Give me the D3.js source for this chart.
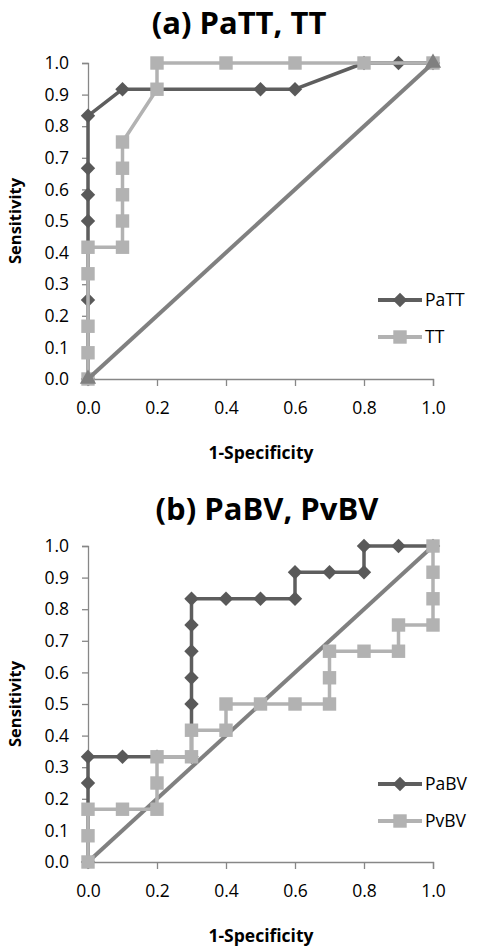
<!DOCTYPE html>
<html><head><meta charset="utf-8">
<script src="https://cdnjs.cloudflare.com/ajax/libs/d3/7.8.5/d3.min.js"></script>
<style>
html,body{margin:0;padding:0;background:#fff;}
svg{display:block;font-family:"Open Sans",sans-serif;}
</style></head>
<body>
<script>
// ---------- data ----------
const xTicks = [0, 0.2, 0.4, 0.6, 0.8, 1.0];
const yTicks = [0, 0.1, 0.2, 0.3, 0.4, 0.5, 0.6, 0.7, 0.8, 0.9, 1.0];

// (a) PaTT, TT
const pattX = [0, 0, 0, 0, 0, 0, 0.1, 0.5, 0.6, 0.8, 0.9, 1.0];
const pattY = [0, 0.25, 0.5, 0.583, 0.667, 0.833, 0.917, 0.917, 0.917, 1.0, 1.0, 1.0];
const ttX = [0, 0, 0, 0, 0, 0.1, 0.1, 0.1, 0.1, 0.1, 0.2, 0.2, 0.4, 0.6, 0.8, 1.0];
const ttY = [0, 0.083, 0.167, 0.333, 0.417, 0.417, 0.5, 0.583, 0.667, 0.75, 0.917, 1.0, 1.0, 1.0, 1.0, 1.0];

// (b) PaBV, PvBV
const pabvX = [0, 0, 0, 0.1, 0.2, 0.3, 0.3, 0.3, 0.3, 0.3, 0.3, 0.4, 0.5, 0.6, 0.6, 0.7, 0.8, 0.8, 0.9, 1.0];
const pabvY = [0, 0.25, 0.333, 0.333, 0.333, 0.333, 0.5, 0.583, 0.667, 0.75, 0.833, 0.833, 0.833, 0.833, 0.917, 0.917, 0.917, 1.0, 1.0, 1.0];
const pvbvX = [0, 0, 0, 0.1, 0.2, 0.2, 0.2, 0.3, 0.3, 0.4, 0.4, 0.5, 0.6, 0.7, 0.7, 0.7, 0.8, 0.9, 0.9, 1.0, 1.0, 1.0, 1.0];
const pvbvY = [0, 0.083, 0.167, 0.167, 0.167, 0.25, 0.333, 0.333, 0.417, 0.417, 0.5, 0.5, 0.5, 0.5, 0.583, 0.667, 0.667, 0.667, 0.75, 0.75, 0.833, 0.917, 1.0];

const refX = [0, 1];
const refY = [0, 1];

const zip = (xs, ys) => xs.map((x, i) => ({x, y: ys[i]}));

// ---------- styles ----------
const DARK = "#5e5e5e", LIGHT = "#b2b2b2", MID = "#808080", AXIS = "#878787";

const svg = d3.select("body").append("svg").attr("width", 479).attr("height", 952);

const diamond = d3.symbol().type(d3.symbolSquare).size(104)();
const square = d3.symbol().type(d3.symbolSquare).size(180)();
const triangle = d3.symbol().type(d3.symbolTriangle).size(115)();

function panel(cfg) {
  const x = d3.scaleLinear().domain([0, 1]).range([88, 433]);
  const y = d3.scaleLinear().domain([0, 1]).range([cfg.y0, cfg.y1]);
  const g = svg.append("g");

  // title
  g.append("text").attr("x", cfg.titleX).attr("y", cfg.titleY)
    .attr("text-anchor", "middle").attr("font-weight", "bold").attr("font-size", 31)
    .attr("fill", "#000").text(cfg.title);

  // axes
  const ya = g.append("g").attr("transform", `translate(${x(0)},0)`)
    .call(d3.axisLeft(y).tickValues(yTicks).tickFormat(d3.format(".1f")).tickSize(6).tickPadding(13));
  const xa = g.append("g").attr("transform", `translate(0,${y(0)})`)
    .call(d3.axisBottom(x).tickValues(xTicks).tickFormat(d3.format(".1f")).tickSize(7).tickPadding(16));
  [ya, xa].forEach(a => {
    a.select(".domain").attr("stroke", AXIS).attr("stroke-width", 1.3);
    a.selectAll(".tick line").attr("stroke", AXIS).attr("stroke-width", 1.3);
    a.selectAll(".tick text").attr("font-size", 17.5).attr("fill", "#000")
      .attr("font-family", "Open Sans, sans-serif");
  });

  // axis titles
  g.append("text").attr("transform", `translate(21,${(cfg.y0 + cfg.y1) / 2}) rotate(-90)`)
    .attr("text-anchor", "middle").attr("font-weight", "bold").attr("font-size", 16.5)
    .text("Sensitivity");
  g.append("text").attr("x", 261).attr("y", cfg.y0 + 80)
    .attr("text-anchor", "middle").attr("font-weight", "bold").attr("font-size", 17.5)
    .text("1-Specificity");

  const line = d3.line().x(d => x(d.x)).y(d => y(d.y));

  function series(data, color, width, marker, mcolor, rotate) {
    g.append("path").datum(data).attr("d", line).attr("fill", "none")
      .attr("stroke", color).attr("stroke-width", width).attr("stroke-linejoin", "round");
    if (marker) {
      g.selectAll(null).data(data).enter().append("path")
        .attr("d", marker).attr("fill", mcolor)
        .attr("transform", d => `translate(${x(d.x)},${y(d.y)})${rotate ? " rotate(45)" : ""}`);
    }
  }
  cfg.draw(series, zip);

  // legend
  cfg.legend.forEach((L, i) => {
    const ly = cfg.legY + i * 37;
    g.append("line").attr("x1", 378).attr("x2", 422).attr("y1", ly).attr("y2", ly)
      .attr("stroke", L.color).attr("stroke-width", 4);
    g.append("path").attr("d", L.marker).attr("fill", L.mcolor)
      .attr("transform", `translate(400,${ly})${L.rotate ? " rotate(45)" : ""}`);
    g.append("text").attr("x", 425).attr("y", ly).attr("dy", "0.35em")
      .attr("font-size", 17.5).attr("fill", "#000").text(L.name);
  });
}

panel({
  title: "(a) PaTT, TT", titleX: 239, titleY: 34, y0: 379, y1: 63, legY: 300,
  legend: [
    {name: "PaTT", color: DARK, marker: diamond, mcolor: "#595959", rotate: true},
    {name: "TT", color: LIGHT, marker: square, mcolor: LIGHT}
  ],
  draw: (series, zip) => {
    series(zip(pattX, pattY), DARK, 3.5, diamond, "#595959", true);
    series(zip(ttX, ttY), LIGHT, 3.5, square, LIGHT, false);
    series(zip(refX, refY), MID, 4, triangle, MID, false);
  }
});

panel({
  title: "(b) PaBV, PvBV", titleX: 267, titleY: 520, y0: 862, y1: 546, legY: 784,
  legend: [
    {name: "PaBV", color: DARK, marker: diamond, mcolor: "#595959", rotate: true},
    {name: "PvBV", color: LIGHT, marker: square, mcolor: LIGHT}
  ],
  draw: (series, zip) => {
    series(zip(refX, refY), MID, 4, null, MID, false);
    series(zip(pabvX, pabvY), DARK, 3.5, diamond, "#595959", true);
    series(zip(pvbvX, pvbvY), LIGHT, 3.5, square, LIGHT, false);
  }
});
</script>
</body></html>
